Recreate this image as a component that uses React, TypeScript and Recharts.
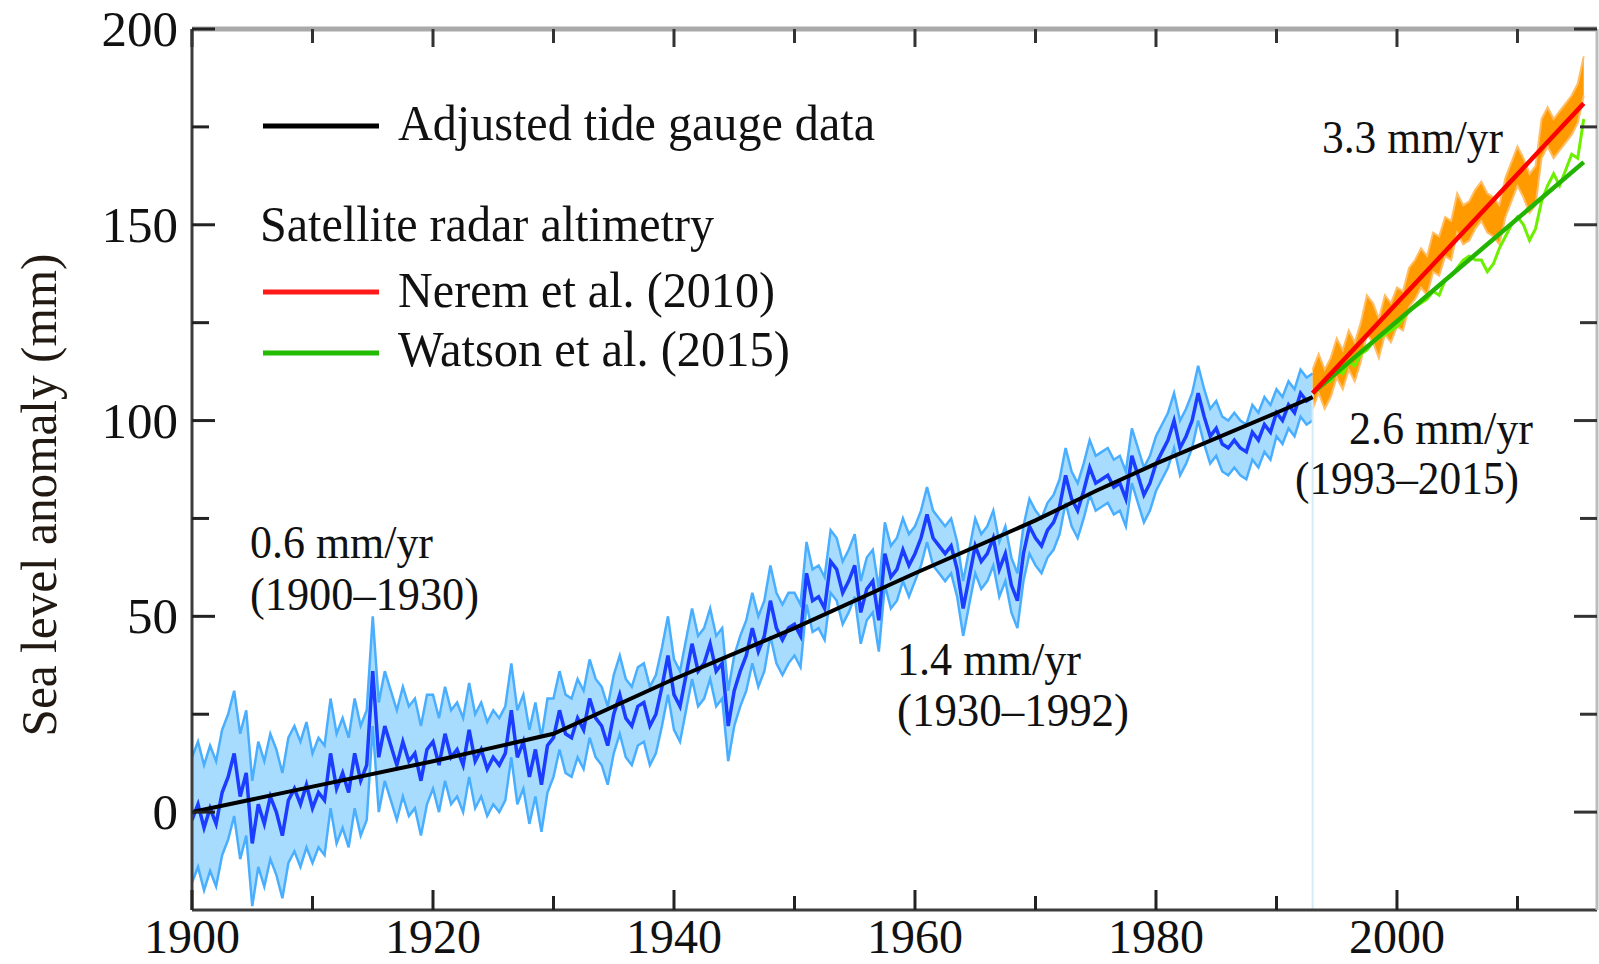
import { ComposedChart, Line, Area, XAxis, YAxis, ReferenceLine } from "recharts";

const FONT = '"Liberation Serif", "Times New Roman", Times, serif';

// tide gauge reconstruction, every half year from 1900.0 to 1993.0 (mm)
const GAUGE_START = 1900;
const STEP = 0.5;
const gaugeValues = [
  -2, 2, -4, 1, -3, 5, 9, 15, 4, 10, -8, 2, -3, 4, 0, -6, 3, 6, 2, 7,
  1, 5, 3, 15, 6, 10, 5, 15, 8, 12, 36, 14, 22, 17, 12, 18, 13, 15, 8, 16,
  18, 12, 20, 14, 16, 12, 21, 13, 16, 11, 14, 12, 15, 26, 14, 18, 9, 16, 7, 17,
  19, 26, 20, 19, 24, 21, 29, 24, 22, 17, 25, 30, 24, 22, 27, 28, 22, 25, 32, 40,
  30, 27, 35, 43, 36, 38, 43, 36, 38, 22, 31, 36, 40, 47, 41, 45, 54, 47, 44, 47,
  48, 45, 61, 54, 55, 52, 64, 62, 56, 59, 63, 51, 57, 59, 49, 66, 60, 62, 67, 63,
  66, 70, 76, 70, 68, 66, 68, 62, 52, 60, 68, 64, 66, 70, 62, 66, 58, 54, 66, 73,
  70, 68, 72, 74, 78, 86, 80, 77, 82, 88, 84, 85, 86, 83, 84, 80, 91, 86, 81, 84,
  89, 92, 95, 100, 93, 96, 100, 107, 101, 96, 98, 94, 93, 95, 93, 92, 97, 95, 99, 97,
  102, 100, 104, 102, 107, 105, 106,
];
// half width of the uncertainty band, per decade (1900s ... 1990s)
const gaugeHalfWidth = [16, 14, 12, 10, 9, 8, 7, 7, 7, 6];

// adjusted tide gauge trend (black)
const trendYears = [1900, 1910, 1920, 1930, 1940, 1950, 1960, 1970, 1975, 1980, 1990, 1993];
const trendValues = [0, 6.5, 13, 20, 34, 47, 61, 74.5, 82, 89, 102, 106];

// satellite altimetry, every half year from 1993.0 to 2015.5
const SAT_START = 1993;
const neremValues = [
  108, 112, 108, 111, 116, 113, 118, 115, 120, 127,
  125, 121, 127, 125, 129, 128, 134, 136, 139, 137,
  143, 142, 147, 146, 153, 150, 151, 154, 156, 153,
  152, 150, 157, 161, 165, 162, 158, 160, 172, 175,
  172, 174, 176, 178, 181, 188,
];
const neremHalfWidth = 5;
const watsonValues = [
  107, 109, 110, 110, 113, 112, 115, 114, 117, 118,
  120, 121, 122, 123, 124, 126, 128, 129, 130, 131,
  133, 132, 136, 137, 139, 141, 142, 141, 141, 138,
  140, 144, 147, 150, 152, 150, 146, 149, 156, 160,
  163, 160, 164, 168, 167, 177,
];
const neremTrendYears = [1993, 2015.5];
const neremTrendValues = [107, 181];
const watsonTrendYears = [1993, 2015.5];
const watsonTrendValues = [107, 166];

const xTicks = [1900, 1910, 1920, 1930, 1940, 1950, 1960, 1970, 1980, 1990, 2000, 2010];
const yTicks = [0, 25, 50, 75, 100, 125, 150, 175, 200];

// one table keyed by year
const rows = new Map<number, any>();
const rowAt = (year: number) => {
  const k = Math.round(year * 2) / 2;
  if (!rows.has(k)) rows.set(k, { year: k });
  return rows.get(k);
};
gaugeValues.forEach((v, i) => {
  const year = GAUGE_START + i * STEP;
  const r = rowAt(year);
  const hw = gaugeHalfWidth[Math.min(gaugeHalfWidth.length - 1, Math.floor((year - 1900) / 10))];
  r.gauge = v;
  r.gaugeBand = [v - hw, v + hw];
});
trendYears.forEach((y, i) => (rowAt(y).trend = trendValues[i]));
neremValues.forEach((v, i) => {
  const r = rowAt(SAT_START + i * STEP);
  r.nerem = v;
  r.neremBand = [v - neremHalfWidth, v + neremHalfWidth];
});
watsonValues.forEach((v, i) => (rowAt(SAT_START + i * STEP).watson = v));
neremTrendYears.forEach((y, i) => (rowAt(y).neremTrend = neremTrendValues[i]));
watsonTrendYears.forEach((y, i) => (rowAt(y).watsonTrend = watsonTrendValues[i]));
const data = [...rows.values()].sort((a, b) => a.year - b.year);

const BottomTick = (props: any) => {
  const { x, y, payload } = props;
  const major = payload.value % 20 === 0;
  return (
    <g>
      <line x1={x} x2={x} y1={y} y2={y - (major ? 20 : 14)} stroke="#222" strokeWidth={3} />
      {major && (
        <text x={x} y={y + 43} textAnchor="middle" fontSize={48} fontFamily={FONT} fill="#111">
          {payload.value}
        </text>
      )}
    </g>
  );
};

const TopTick = (props: any) => {
  const { x, y, payload } = props;
  const major = payload.value % 20 === 0;
  return <line x1={x} x2={x} y1={y} y2={y + (major ? 18 : 14)} stroke="#333" strokeWidth={3} />;
};

const LeftTick = (props: any) => {
  const { x, y, payload } = props;
  const major = payload.value % 50 === 0;
  return (
    <g>
      <line x1={x} x2={x + (major ? 23 : 17)} y1={y} y2={y} stroke="#222" strokeWidth={3} />
      {major && (
        <text x={x - 14} y={y + 17} textAnchor="end" fontSize={51} fontFamily={FONT} fill="#111">
          {payload.value}
        </text>
      )}
    </g>
  );
};

const RightTick = (props: any) => {
  const { x, y, payload } = props;
  const major = payload.value % 50 === 0;
  return <line x1={x} x2={x - (major ? 23 : 17)} y1={y} y2={y} stroke="#333" strokeWidth={3} />;
};

const T = (p: { x: number; y: number; w: number; size?: number; children: string }) => (
  <text
    x={p.x}
    y={p.y}
    fontSize={p.size ?? 50}
    fontFamily={FONT}
    fill="#111"
    textLength={p.w}
    lengthAdjust="spacingAndGlyphs"
  >
    {p.children}
  </text>
);

export default function App() {
  return (
    <div style={{ position: "absolute", left: 0, top: 0, width: 1599, height: 964, background: "#fff" }}>
      <ComposedChart width={1599} height={964} data={data} margin={{ top: 0, right: 0, bottom: 0, left: 0 }}>
        <XAxis
          dataKey="year"
          type="number"
          domain={[1900, 2016.6]}
          ticks={xTicks}
          interval={0}
          height={54}
          tickSize={0}
          tickMargin={0}
          tickLine={false}
          tick={<BottomTick />}
          axisLine={{ stroke: "#3d3d3d", strokeWidth: 3 }}
          allowDataOverflow
        />
        <XAxis
          xAxisId="top"
          orientation="top"
          dataKey="year"
          type="number"
          domain={[1900, 2016.6]}
          ticks={xTicks}
          interval={0}
          height={29}
          tickSize={0}
          tickMargin={0}
          tickLine={false}
          tick={<TopTick />}
          axisLine={{ stroke: "#a9a9a9", strokeWidth: 5 }}
          allowDataOverflow
        />
        <YAxis
          type="number"
          domain={[-25, 200]}
          ticks={yTicks}
          interval={0}
          width={192}
          tickSize={0}
          tickMargin={0}
          tickLine={false}
          tick={<LeftTick />}
          axisLine={{ stroke: "#3d3d3d", strokeWidth: 3 }}
          allowDataOverflow
        />
        <YAxis
          yAxisId="right"
          orientation="right"
          type="number"
          domain={[-25, 200]}
          ticks={yTicks}
          interval={0}
          width={2}
          tickSize={0}
          tickMargin={0}
          tickLine={false}
          tick={<RightTick />}
          axisLine={{ stroke: "#bdbdbd", strokeWidth: 3 }}
          allowDataOverflow
        />
        <ReferenceLine
          segment={[
            { x: 1993, y: -25 },
            { x: 1993, y: 108 },
          ]}
          stroke="#d6ebf8"
          strokeWidth={2}
        />
        <Area
          dataKey="gaugeBand"
          type="linear"
          fill="#a8dcff"
          fillOpacity={1}
          stroke="#4aaeff"
          strokeWidth={2.5}
          dot={false}
          activeDot={false}
          isAnimationActive={false}
        />
        <Line
          dataKey="gauge"
          type="linear"
          stroke="#1a3dff"
          strokeWidth={3.5}
          dot={false}
          activeDot={false}
          isAnimationActive={false}
        />
        <Line
          dataKey="trend"
          type="linear"
          stroke="#000"
          strokeWidth={4}
          connectNulls
          dot={false}
          activeDot={false}
          isAnimationActive={false}
        />
        <Area
          dataKey="neremBand"
          type="linear"
          fill="#ff9a00"
          fillOpacity={1}
          stroke="#ffbd66"
          strokeWidth={2}
          dot={false}
          activeDot={false}
          isAnimationActive={false}
        />
        <Line
          dataKey="watson"
          type="linear"
          stroke="#6cf000"
          strokeWidth={3}
          dot={false}
          activeDot={false}
          isAnimationActive={false}
        />
        <Line
          dataKey="watsonTrend"
          type="linear"
          stroke="#22b400"
          strokeWidth={4.5}
          connectNulls
          dot={false}
          activeDot={false}
          isAnimationActive={false}
        />
        <Line
          dataKey="neremTrend"
          type="linear"
          stroke="#ff0000"
          strokeWidth={4.5}
          connectNulls
          dot={false}
          activeDot={false}
          isAnimationActive={false}
        />
      </ComposedChart>

      <svg
        width={1599}
        height={964}
        style={{ position: "absolute", left: 0, top: 0, pointerEvents: "none" }}
      >
        <text
          x={39}
          y={495}
          transform="rotate(-90 39 495)"
          textAnchor="middle"
          dominantBaseline="central"
          fontSize={50}
          fontFamily={FONT}
          fill="#221a12"
          textLength={483}
          lengthAdjust="spacingAndGlyphs"
        >
          Sea level anomaly (mm)
        </text>

        <line x1={263} x2={379} y1={126} y2={126} stroke="#000" strokeWidth={5} />
        <T x={398} y={140} w={477}>Adjusted tide gauge data</T>
        <T x={260} y={241} w={454}>Satellite radar altimetry</T>
        <line x1={263} x2={379} y1={292} y2={292} stroke="#ff1a1a" strokeWidth={5} />
        <T x={398} y={307} w={377}>Nerem et al. (2010)</T>
        <line x1={263} x2={379} y1={353} y2={353} stroke="#22bb00" strokeWidth={5} />
        <T x={398} y={366} w={392}>Watson et al. (2015)</T>

        <T x={250} y={558} w={183} size={46}>0.6 mm/yr</T>
        <T x={250} y={610} w={229} size={46}>(1900–1930)</T>
        <T x={897} y={675} w={184} size={46}>1.4 mm/yr</T>
        <T x={897} y={726} w={232} size={46}>(1930–1992)</T>
        <T x={1322} y={153} w={181} size={46}>3.3 mm/yr</T>
        <T x={1349} y={444} w={184} size={46}>2.6 mm/yr</T>
        <T x={1295} y={494} w={224} size={46}>(1993–2015)</T>
      </svg>
    </div>
  );
}
